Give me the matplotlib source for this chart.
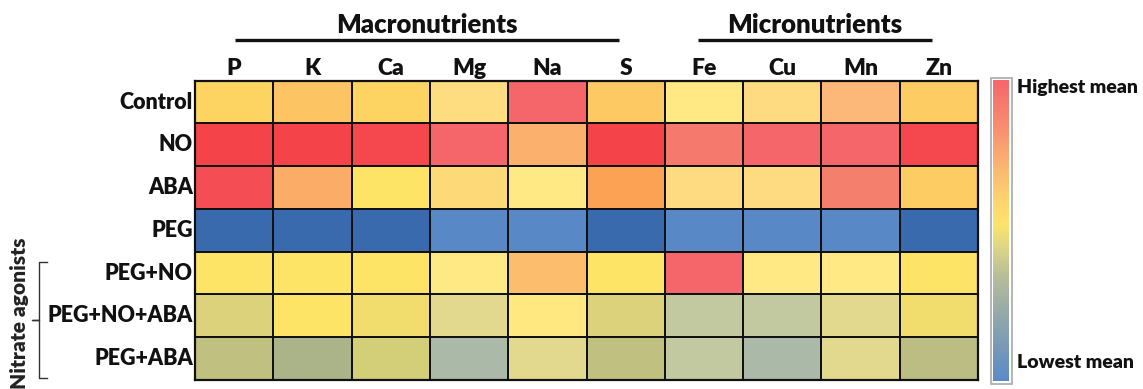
import numpy as np
import matplotlib
matplotlib.use("Agg")
import matplotlib.pyplot as plt
from matplotlib.colors import LinearSegmentedColormap
from matplotlib.patches import Rectangle
from matplotlib.lines import Line2D

plt.rcParams['font.family'] = ['Lato', 'DejaVu Sans']

# Nutrients (columns) and treatments (rows)
nutrients = ["P", "K", "Ca", "Mg", "Na", "S", "Fe", "Cu", "Mn", "Zn"]
treatments = ["Control", "NO", "ABA", "PEG", "PEG+NO", "PEG+NO+ABA", "PEG+ABA"]

# Relative mean level per treatment (0 = lowest mean, 1 = highest mean)
control    = [0.70, 0.74, 0.70, 0.65, 0.93, 0.73, 0.60, 0.66, 0.78, 0.72]
no         = [1.00, 1.00, 0.99, 0.93, 0.79, 1.00, 0.88, 0.93, 0.93, 0.99]
aba        = [0.98, 0.80, 0.56, 0.67, 0.60, 0.82, 0.66, 0.66, 0.87, 0.72]
peg        = [0.00, 0.00, 0.00, 0.08, 0.08, 0.00, 0.08, 0.08, 0.08, 0.00]
peg_no     = [0.56, 0.56, 0.56, 0.60, 0.76, 0.56, 0.93, 0.60, 0.60, 0.56]
peg_no_aba = [0.47, 0.56, 0.53, 0.50, 0.59, 0.47, 0.31, 0.31, 0.50, 0.53]
peg_aba    = [0.41, 0.34, 0.44, 0.28, 0.50, 0.41, 0.31, 0.28, 0.50, 0.38]

macro_label = "Macronutrients"
micro_label = "Micronutrients"
group_label = "Nitrate agonists"
high_label = "Highest mean"
low_label = "Lowest mean"

values = np.array([control, no, aba, peg, peg_no, peg_no_aba, peg_aba])

# Cell colour scale
anchors = [
    (0.00, "#3a6aae"), (0.08, "#5a89c6"), (0.20, "#8fa5b4"), (0.28, "#abb9a8"),
    (0.31, "#c2c8a0"), (0.34, "#aab488"), (0.38, "#bcbd82"), (0.41, "#c0c080"),
    (0.44, "#d3cf78"), (0.47, "#dcd27c"), (0.50, "#e1d991"), (0.53, "#f1dd6c"),
    (0.56, "#fde466"), (0.60, "#fee985"), (0.66, "#fedb80"), (0.70, "#fdd562"),
    (0.74, "#fdc462"), (0.78, "#fbb878"), (0.82, "#fba255"), (0.87, "#f57f6d"),
    (0.93, "#f5686c"), (1.00, "#f4444a"),
]
cmap = LinearSegmentedColormap.from_list("nutrient", anchors)

# Smooth gradient for the legend bar
legend_cmap = LinearSegmentedColormap.from_list("legend", [
    (0.00, "#5b8ac8"), (0.20, "#8ea6ad"), (0.35, "#b8be98"), (0.45, "#e0d884"),
    (0.52, "#fde46c"), (0.62, "#fdd070"), (0.72, "#fbb472"), (0.85, "#f88c70"),
    (1.00, "#f5676b"),
])

W, H = 1143, 389
fig = plt.figure(figsize=(W / 100, H / 100), dpi=100)


def fx(px):
    return px / W


def fy(py):
    return 1 - py / H


TXT = "#111111"
WEIGHT = "heavy"

# Heatmap
left, right, top, bottom = 195, 978, 80.7, 380
ax = fig.add_axes([fx(left), fy(bottom), fx(right - left), (bottom - top) / H])
ax.pcolormesh(values, cmap=cmap, vmin=0, vmax=1, edgecolors="#111111", linewidth=1.4)
ax.set_xlim(0, len(nutrients))
ax.set_ylim(len(treatments), 0)
ax.set_xticks([])
ax.set_yticks([])
for s in ax.spines.values():
    s.set_linewidth(1.6)
    s.set_color("#111111")

col_w = (right - left) / len(nutrients)
row_h = (bottom - top) / len(treatments)
for i, name in enumerate(nutrients):
    fig.text(fx(left + (i + 0.5) * col_w), fy(75), name, ha="center", va="baseline",
             fontsize=16.5, fontweight=WEIGHT, color=TXT)
for j, name in enumerate(treatments):
    fig.text(fx(193), fy(top + (j + 0.5) * row_h), name, ha="right", va="center",
             fontsize=15.5, fontweight=WEIGHT, color=TXT)

# Group headings with underlines
fig.text(fx(427), fy(33), macro_label, ha="center", va="baseline",
         fontsize=18.5, fontweight=WEIGHT, color=TXT)
fig.text(fx(815), fy(33), micro_label, ha="center", va="baseline",
         fontsize=18.5, fontweight=WEIGHT, color=TXT)
for x0, x1 in [(235, 619), (698, 932)]:
    fig.add_artist(Line2D([fx(x0), fx(x1)], [fy(39.5), fy(39.5)], color="#111111",
                          linewidth=2.4, solid_capstyle="butt"))

# Bracket for the nitrate agonist treatments
bx, by0, by1, bmid = 39, 262, 378, 320
bracket_x = [fx(47), fx(bx), fx(bx), fx(32), fx(bx), fx(bx), fx(47)]
bracket_y = [fy(by0), fy(by0), fy(bmid), fy(bmid), fy(bmid), fy(by1), fy(by1)]
fig.add_artist(Line2D(bracket_x, bracket_y, color="#333333", linewidth=1.0))
fig.text(fx(20), fy(389), group_label, rotation=90, ha="center", va="bottom",
         fontsize=15, fontweight=WEIGHT, color="#222222")

# Colour scale legend
cb_l, cb_r, cb_t, cb_b = 993, 1009, 80, 381
cax = fig.add_axes([fx(cb_l), fy(cb_b), fx(cb_r - cb_l), (cb_b - cb_t) / H])
grad = np.linspace(1, 0, 256).reshape(-1, 1)
cax.imshow(grad, cmap=legend_cmap, vmin=0, vmax=1, aspect="auto",
           extent=[0, 1, 0, 1], interpolation="bilinear")
cax.set_axis_off()
fig.add_artist(Rectangle((fx(990.5), fy(383.5)), fx(1011.5 - 990.5), (383.5 - 77.5) / H,
                         fill=False, edgecolor="#a8a8a8", linewidth=1.2,
                         transform=fig.transFigure))
fig.text(fx(1017), fy(87), high_label, ha="left", va="center",
         fontsize=14, fontweight=WEIGHT, color=TXT)
fig.text(fx(1017), fy(362), low_label, ha="left", va="center",
         fontsize=14, fontweight=WEIGHT, color=TXT)

fig.savefig("out.png", dpi=100)
